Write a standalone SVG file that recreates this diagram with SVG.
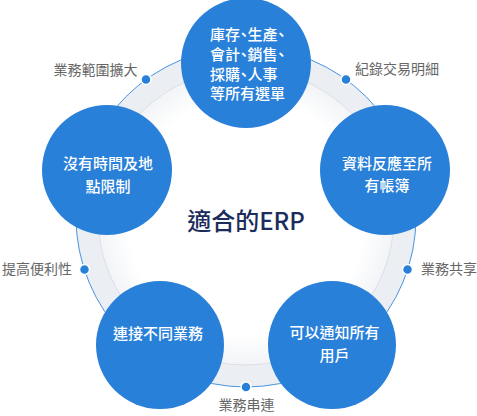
<svg xmlns="http://www.w3.org/2000/svg" width="477" height="416" viewBox="0 0 477 416">
<style>
  .node{fill:#2980d9;}
  .nt{font-family:"Noto Sans CJK TC","Noto Sans",sans-serif;font-size:15px;fill:#ffffff;font-weight:500;text-anchor:middle;}
  .nl{font-family:"Noto Sans CJK TC","Noto Sans",sans-serif;font-size:14px;fill:#666666;}
  .dot{fill:#2980d9;stroke:#ffffff;stroke-width:1.5;}
  .halt{font-feature-settings:"halt";}
</style>
<defs>
  <radialGradient id="inner" cx="246" cy="217" r="148" gradientUnits="userSpaceOnUse">
    <stop offset="0.8" stop-color="#ffffff"/>
    <stop offset="1" stop-color="#f2f4f7"/>
  </radialGradient>
</defs>
<rect width="477" height="416" fill="#ffffff"/>
<g id="ring">
  <circle cx="246" cy="217" r="170" fill="#ebeef2" stroke="#4a93e0" stroke-width="1"/>
  <circle cx="246" cy="217" r="148" fill="url(#inner)" stroke="#dce1e7" stroke-width="1"/>
</g>
<g id="connectors">
  <circle class="dot" cx="146" cy="79.5" r="5"/>
  <circle class="dot" cx="346" cy="79.5" r="5"/>
  <circle class="dot" cx="84.5" cy="269.5" r="5"/>
  <circle class="dot" cx="407.5" cy="269.5" r="5"/>
  <circle class="dot" cx="246" cy="387" r="5"/>
</g>
<g id="node-top">
  <circle class="node" cx="246" cy="63" r="65"/>
  <text class="nt halt" style="text-anchor:start" x="210" y="40">庫存、生產、</text>
  <text class="nt halt" style="text-anchor:start" x="210" y="60">會計、銷售、</text>
  <text class="nt halt" style="text-anchor:start" x="210" y="79.5">採購、人事</text>
  <text class="nt halt" style="text-anchor:start" x="210" y="99">等所有選單</text>
</g>
<g id="node-right">
  <circle class="node" cx="385" cy="170" r="65"/>
  <text class="nt" x="387" y="168.5">資料反應至所</text>
  <text class="nt" x="387" y="190.5">有帳簿</text>
</g>
<g id="node-left">
  <circle class="node" cx="107" cy="170" r="65"/>
  <text class="nt" x="108" y="168.5">沒有時間及地</text>
  <text class="nt" x="108" y="191.5">點限制</text>
</g>
<g id="node-bottom-right">
  <circle class="node" cx="332" cy="345" r="64"/>
  <text class="nt" x="334.5" y="338">可以通知所有</text>
  <text class="nt" x="334.5" y="360.5">用戶</text>
</g>
<g id="node-bottom-left">
  <circle class="node" cx="160" cy="345" r="64"/>
  <text class="nt" x="158" y="338.5">連接不同業務</text>
</g>
<g id="center">
  <text x="246" y="230" text-anchor="middle" font-family="'Noto Sans CJK TC','Noto Sans',sans-serif" font-size="24" font-weight="500" fill="#1c2c5b">適合的ERP</text>
</g>
<g id="labels">
  <text class="nl" x="137.5" y="74.5" text-anchor="end">業務範圍擴大</text>
  <text class="nl" x="355" y="74">紀錄交易明細</text>
  <text class="nl" x="2" y="274">提高便利性</text>
  <text class="nl" x="421" y="274">業務共享</text>
  <text class="nl" x="246.5" y="410" text-anchor="middle">業務串連</text>
</g>
</svg>
